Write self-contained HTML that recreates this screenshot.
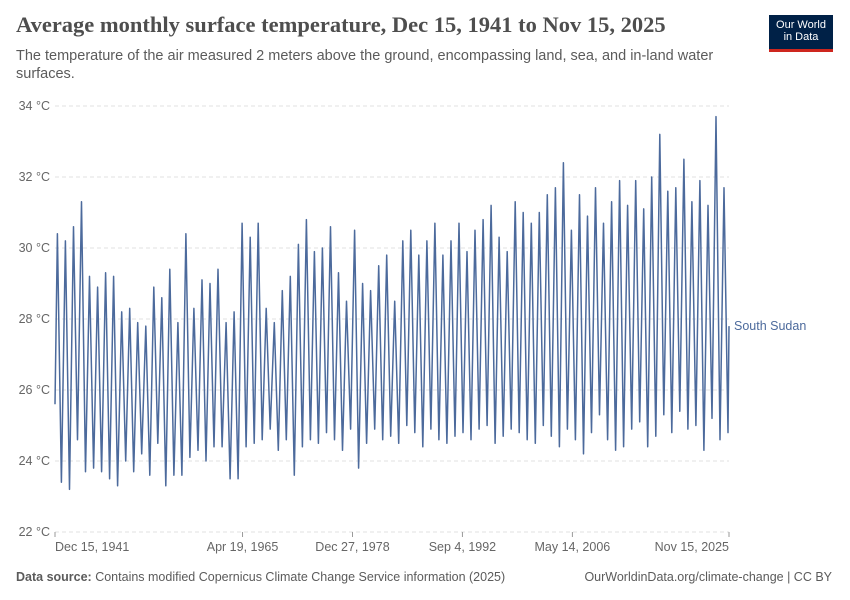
<!DOCTYPE html>
<html><head><meta charset="utf-8"><style>
body{margin:0;width:850px;height:600px;background:#fff;font-family:"Liberation Sans",sans-serif;overflow:hidden;position:relative}
.t{position:absolute;left:16px;top:12px;font-family:"Liberation Serif",serif;font-size:22.5px;color:#4e4e4e;font-weight:bold}
.s{position:absolute;left:16px;top:47px;width:720px;font-size:14.5px;line-height:18px;color:#5b5b5b}
.logo{position:absolute;left:769px;top:15px;width:64px;background:#002147;border-bottom:3px solid #ce261e;color:#fff;font-size:11px;line-height:12px;text-align:center;padding-top:4px;height:30px}
.f{position:absolute;top:570px;font-size:12.5px;color:#5b5b5b}
</style></head><body>
<div class="t">Average monthly surface temperature, Dec 15, 1941 to Nov 15, 2025</div>
<div class="s">The temperature of the air measured 2 meters above the ground, encompassing land, sea, and in-land water surfaces.</div>
<div class="logo">Our World<br>in Data</div>
<svg id="c" width="850" height="600" style="position:absolute;left:0;top:0"></svg>
<div class="f" style="left:16px"><b>Data source:</b> Contains modified Copernicus Climate Change Service information (2025)</div>
<div class="f" style="right:18px">OurWorldinData.org/climate-change | CC BY</div>
<script>
const yTicks=[22,24,26,28,30,32,34];
const xTickLabels=["Dec 15, 1941","Apr 19, 1965","Dec 27, 1978","Sep 4, 1992","May 14, 2006","Nov 15, 2025"];
const xTickYears=[1941.95,1965.3,1978.99,1992.68,2006.37,2025.87];
const firstYear=1942;
const peaks=[30.4,30.2,30.6,31.3,29.2,28.9,29.3,29.2,28.2,28.3,
27.9,27.8,28.9,28.6,29.4,27.9,30.4,28.3,29.1,29.0,
29.4,27.9,28.2,30.7,30.3,30.7,28.3,27.9,28.8,29.2,
30.1,30.8,29.9,30.0,30.6,29.3,28.5,30.5,29.0,28.8,
29.5,29.8,28.5,30.2,30.5,29.8,30.2,30.7,29.8,30.2,
30.7,29.9,30.5,30.8,31.2,30.3,29.9,31.3,31.0,30.7,
31.0,31.5,31.7,32.4,30.5,31.5,30.9,31.7,30.7,31.3,
31.9,31.2,31.9,31.1,32.0,33.2,31.6,31.7,32.5,31.3,
31.9,31.2,33.7,31.7];
const troughs=[23.4,23.2,24.6,23.7,23.8,23.7,23.5,23.3,24.0,23.7,
24.2,23.6,24.5,23.3,23.6,23.6,24.1,24.3,24.0,24.4,
24.4,23.5,23.5,24.4,24.5,24.6,24.9,24.3,24.6,23.6,
24.4,24.6,24.5,24.8,24.6,24.3,24.9,23.8,24.5,24.9,
24.6,24.7,24.5,25.0,24.8,24.4,24.9,24.6,24.5,24.7,
24.8,24.6,24.9,25.0,24.5,24.7,24.9,24.8,24.6,24.5,
25.0,24.7,24.4,24.9,24.6,24.2,24.8,25.3,24.6,24.3,
24.4,24.9,25.1,24.4,24.7,25.3,24.8,25.4,24.9,25.0,
24.3,25.2,24.6,24.8];
const startValue=25.6,endValue=27.8;
const X0=55,X1=729,Y0=532,Y1=106,T0=1941.95,T1=2025.87;
const xs=t=>X0+(t-T0)/(T1-T0)*(X1-X0);
const ys=v=>Y0-(v-22)/(34-22)*(Y0-Y1);
const svg=document.getElementById('c');const NS="http://www.w3.org/2000/svg";
function mk(tag,attrs){const e=document.createElementNS(NS,tag);for(const k in attrs)e.setAttribute(k,attrs[k]);svg.appendChild(e);return e;}
yTicks.forEach(v=>{
 const l=mk('line',{x1:55,x2:729,y1:ys(v),y2:ys(v),stroke:'#e2e2e2','stroke-dasharray':'4,3'});
 
 
 const t=mk('text',{x:50,y:ys(v)+4,'text-anchor':'end','font-size':12.5,fill:'#666'});t.textContent=v+' °C';
 
 
});
xTickLabels.forEach((lab,i)=>{
 const x=xs(xTickYears[i]);
 const tk=mk('line',{x1:x,x2:x,y1:532,y2:537,stroke:'#999'});
 
 
 const anchor=i==0?'start':(i==xTickLabels.length-1?'end':'middle');
 const t=mk('text',{x:x,y:551,'text-anchor':anchor,'font-size':12.5,fill:'#666'});t.textContent=lab;
 
 
});
let pts=[[xs(T0),ys(startValue)]];
peaks.forEach((p,i)=>{const y=firstYear+i;pts.push([xs(y+0.25),ys(p)]);pts.push([xs(y+0.75),ys(troughs[i])]);});
pts.push([xs(T1),ys(endValue)]);
const path=mk('path',{d:'M'+pts.map(p=>p[0].toFixed(1)+','+p[1].toFixed(1)).join('L'),fill:'none',stroke:'#4c6a9c','stroke-width':1.5,'stroke-linejoin':'round'});


const lg=mk('text',{x:734,y:ys(endValue)+4,'font-size':12.5,fill:'#4c6a9c'});lg.textContent='South Sudan';


</script>
</body></html>
